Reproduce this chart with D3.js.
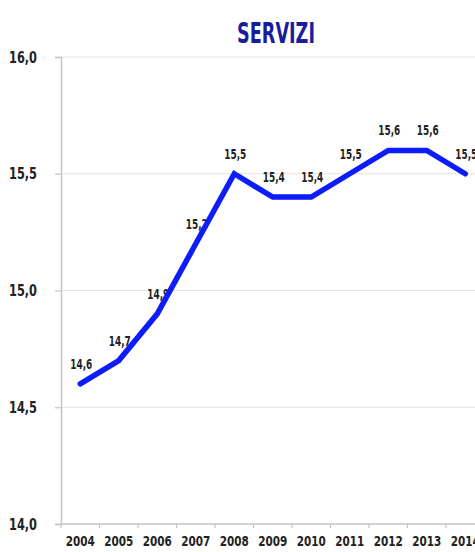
<!DOCTYPE html>
<html>
<head>
<meta charset="utf-8">
<script src="https://cdn.jsdelivr.net/npm/d3@7"></script>
<style>
  html, body { margin: 0; padding: 0; background: #fff; }
  svg { display: block; }
  text { font-family: "DejaVu Sans Condensed", "Liberation Sans Narrow", sans-serif; }
</style>
</head>
<body>
<svg id="chart" width="475" height="552"></svg>
<script>
// Services series, yearly values
const years = ["2004", "2005", "2006", "2007", "2008", "2009", "2010", "2011", "2012", "2013", "2014"];
const values = [14.6, 14.7, 14.9, 15.2, 15.5, 15.4, 15.4, 15.5, 15.6, 15.6, 15.5];
const yTicks = [14.0, 14.5, 15.0, 15.5, 16.0];
const title = "SERVIZI";

const fmt = v => v.toFixed(1).replace(".", ",");
const FONT = "'DejaVu Sans Condensed', 'Liberation Sans Narrow', sans-serif";

const svg = d3.select("#chart");
const plotLeft = 61, plotTop = 57, plotBottom = 524;
const band = 38.5;

const x = d3.scaleBand().domain(years).range([plotLeft, plotLeft + band * years.length]).padding(0);
const y = d3.scaleLinear().domain([14, 16]).range([plotBottom, plotTop]);

// gridlines
svg.append("g").selectAll("line").data(yTicks.filter(d => d > 14)).join("line")
  .attr("x1", plotLeft).attr("x2", 475)
  .attr("y1", d => y(d)).attr("y2", d => y(d))
  .attr("stroke", "#e2e2e2").attr("stroke-width", 1.2);

// y axis
const yAxis = svg.append("g").attr("transform", `translate(${plotLeft},0)`)
  .call(d3.axisLeft(y).tickValues(yTicks).tickFormat(fmt).tickSize(6).tickPadding(18));
yAxis.select(".domain").attr("stroke", "#c4c4c4").attr("stroke-width", 1.5);
yAxis.selectAll(".tick line").attr("stroke", "#c4c4c4").attr("stroke-width", 1.2);
yAxis.selectAll(".tick text")
  .attr("fill", "#222").attr("font-size", 16).attr("font-weight", "bold")
  .attr("font-family", FONT)
  .attr("textLength", 28).attr("lengthAdjust", "spacingAndGlyphs");

// x axis: ticks at band boundaries, labels at band centres
const xg = svg.append("g");
xg.append("line").attr("x1", plotLeft).attr("x2", x.range()[1])
  .attr("y1", plotBottom).attr("y2", plotBottom).attr("stroke", "#c4c4c4").attr("stroke-width", 1.5);
xg.selectAll("line.tk").data(years).join("line").attr("class", "tk")
  .attr("x1", d => x(d)).attr("x2", d => x(d))
  .attr("y1", plotBottom).attr("y2", plotBottom + 4)
  .attr("stroke", "#c4c4c4").attr("stroke-width", 1.2);
xg.selectAll("text").data(years).join("text")
  .attr("x", d => x(d) + x.bandwidth() / 2 - 14.5).attr("y", 546)
  .attr("fill", "#222")
  .attr("font-size", 14).attr("font-weight", "bold")
  .attr("textLength", 29).attr("lengthAdjust", "spacingAndGlyphs")
  .text(d => d);

// title
svg.append("text").attr("x", 276).attr("y", 43).attr("text-anchor", "middle")
  .attr("fill", "#1b1b9e").attr("font-size", 29).attr("font-weight", "bold")
  .attr("textLength", 78).attr("lengthAdjust", "spacingAndGlyphs")
  .text(title);

const pts = years.map((yr, i) => ({ yr, v: values[i] }));

// value labels (drawn under the line)
svg.append("g").selectAll("text").data(pts).join("text")
  .attr("x", d => x(d.yr) + x.bandwidth() / 2 + 1 - 11)
  .attr("y", d => y(d.v) - 15)
  .attr("fill", "#222")
  .attr("font-size", 14).attr("font-weight", "bold")
  .attr("textLength", 22).attr("lengthAdjust", "spacingAndGlyphs")
  .text(d => fmt(d.v));

// line
const line = d3.line().x(d => x(d.yr) + x.bandwidth() / 2).y(d => y(d.v));
svg.append("path").datum(pts).attr("d", line)
  .attr("fill", "none").attr("stroke", "#0d1cfa").attr("stroke-width", 5.5)
  .attr("stroke-linejoin", "miter").attr("stroke-linecap", "round");
</script>
</body>
</html>
